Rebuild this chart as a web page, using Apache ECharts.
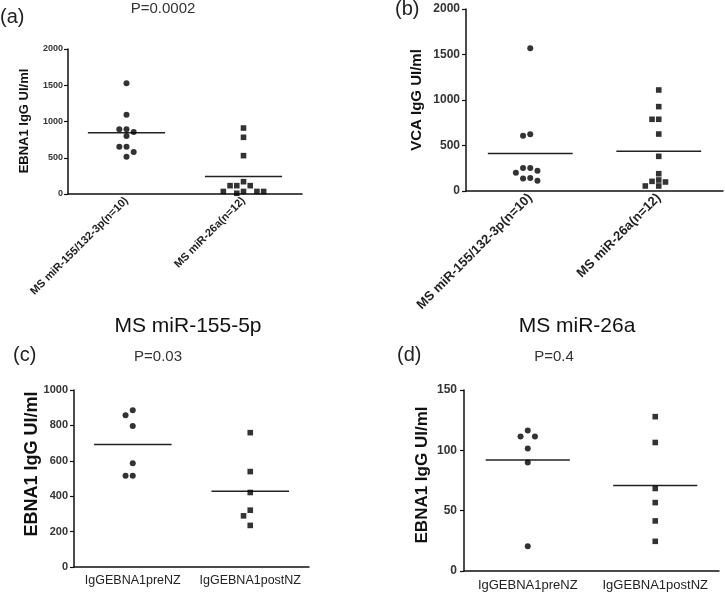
<!DOCTYPE html>
<html><head><meta charset="utf-8">
<script src="https://cdn.jsdelivr.net/npm/echarts@6/dist/echarts.min.js"></script>
<style>html,body{margin:0;padding:0;background:#fff}#c{width:725px;height:593px}</style>
</head><body><div id="c"></div>
<script>
// ---- data ----
const catsTop = ['MS miR-155/132-3p(n=10)', 'MS miR-26a(n=12)'];
const catsBottom = ['IgGEBNA1preNZ', 'IgGEBNA1postNZ'];
const aGroup1 = [1526, 1094, 892, 892, 855, 800, 653, 653, 579, 515];
const aGroup2 = [910, 782, 529, 170, 115, 115, 115, 35, 35, 35, 35, 10];
const bGroup1 = [1568, 623, 608, 253, 253, 223, 201, 143, 136, 114];
const bGroup2 = [1110, 927, 788, 788, 626, 381, 190, 121, 106, 99, 55, 55];
const cPre = [885, 857, 797, 586, 515, 515];
const cPost = [759, 539, 421, 321, 289, 235];
const dPre = [116.5, 111.5, 111.5, 101.6, 90, 20.5];
const dPost = [127.9, 106.5, 68.4, 56.7, 41.5, 24.6];
const ticksTop = [0, 500, 1000, 1500, 2000];
const ticksC = [0, 200, 400, 600, 800, 1000];
const ticksD = [0, 50, 100, 150];

const FONT = '"Liberation Sans", Arial, sans-serif';
const mean = a => a.reduce((s, v) => s + v, 0) / a.length;

// simple beeswarm: horizontal offsets so symbols don't overlap
function swarm(vals, max, h, size) {
  const step = size * 1.2, minD = size * 1.05;
  const order = vals.map((v, i) => i).sort((a, b) => vals[b] - vals[a]);
  const placed = [], off = new Array(vals.length).fill(0);
  order.forEach(i => {
    const y = vals[i] / max * h;
    for (let k = 0; k < 60; k++) {
      const c = k === 0 ? 0 : (k % 2 ? -1 : 1) * Math.ceil(k / 2) * step;
      if (placed.every(p => Math.hypot(p[0] - c, p[1] - y) >= minD)) {
        placed.push([c, y]); off[i] = c; break;
      }
    }
  });
  return off;
}

const panels = [
  { grid: { left: 68, top: 49, width: 234, height: 145 }, cats: catsTop, g1: aGroup1, g2: aGroup2, ticks: ticksTop,
    tickFont: 9, tickMargin: 5, xFont: 11, xBold: 'bold', rotate: 45, xMargin: 5 },
  { grid: { left: 466, top: 9, width: 257, height: 182 }, cats: catsTop, g1: bGroup1, g2: bGroup2, ticks: ticksTop,
    tickFont: 12, tickMargin: 6, xFont: 13, xBold: 'bold', rotate: 45, xMargin: 5 },
  { grid: { left: 74, top: 390, width: 235, height: 177 }, cats: catsBottom, g1: cPre, g2: cPost, ticks: ticksC,
    tickFont: 11, tickMargin: 6, xFont: 12.5, xBold: 'normal', rotate: 0, xMargin: 7 },
  { grid: { left: 464, top: 390, width: 255, height: 181 }, cats: catsBottom, g1: dPre, g2: dPost, ticks: ticksD,
    tickFont: 12, tickMargin: 7, xFont: 13, xBold: 'normal', rotate: 0, xMargin: 8 }
];

const grids = [], xAxes = [], yAxes = [], series = [];
panels.forEach((p, i) => {
  const max = p.ticks[p.ticks.length - 1];
  const interval = p.ticks[1] - p.ticks[0];
  grids.push(Object.assign({ containLabel: false, outerBoundsMode: 'none' }, p.grid));
  xAxes.push({
    type: 'category', gridIndex: i, data: p.cats, boundaryGap: true,
    axisLine: { lineStyle: { color: '#111', width: 1.5 } },
    axisTick: { alignWithLabel: true, length: 4, lineStyle: { color: '#111', width: 1.2 } },
    axisLabel: { rotate: p.rotate, margin: p.xMargin, fontFamily: FONT, fontSize: p.xFont,
      fontWeight: p.xBold, color: '#222', interval: 0 },
    splitLine: { show: false }
  });
  yAxes.push({
    type: 'value', gridIndex: i, min: 0, max: max, interval: interval,
    axisLine: { show: true, lineStyle: { color: '#111', width: 1.5 } },
    axisTick: { show: true, length: 4, lineStyle: { color: '#111', width: 1.2 } },
    axisLabel: { margin: p.tickMargin, fontFamily: FONT, fontSize: p.tickFont, fontWeight: 'bold', color: '#333',
      formatter: v => String(v) },
    splitLine: { show: false }
  });
  const groups = [[p.g1, 'circle', 6], [p.g2, 'rect', 5.6]];
  groups.forEach((g, gi) => {
    const off = swarm(g[0], max, p.grid.height, g[2]);
    series.push({
      type: 'scatter', xAxisIndex: i, yAxisIndex: i, symbol: g[1], symbolSize: g[2],
      itemStyle: { color: '#000' }, silent: true,
      data: g[0].map((v, k) => ({ value: [gi, v], symbolOffset: [off[k], 0] }))
    });
  });
  series.push({
    type: 'custom', xAxisIndex: i, yAxisIndex: i, silent: true, z: 1,
    data: [[0, mean(p.g1)], [1, mean(p.g2)]],
    renderItem: (params, api) => {
      const pt = api.coord([api.value(0), api.value(1)]);
      const band = api.size([1, 0])[0];
      return { type: 'line', shape: { x1: pt[0] - band * 0.33, y1: pt[1], x2: pt[0] + band * 0.33, y2: pt[1] },
        style: { stroke: '#222', lineWidth: 1.5 } };
    }
  });
});

function txt(t, x, y, size, opts) {
  return Object.assign({ type: 'text', x: x, y: y, silent: true,
    style: Object.assign({ text: t, font: (opts && opts.bold ? 'bold ' : '') + size + 'px ' + FONT,
      fill: (opts && opts.fill) || '#222', textAlign: (opts && opts.align) || 'center', textVerticalAlign: 'middle' }) },
    opts && opts.rot ? { rotation: Math.PI / 2 } : {});
}

const graphics = [
  txt('(a)', 0, 17, 20, { align: 'left' }),
  txt('P=0.0002', 163, 9, 15, { fill: '#333' }),
  txt('(b)', 395, 9, 20, { align: 'left' }),
  txt('MS miR-155-5p', 188, 326, 21, { fill: '#111' }),
  txt('MS miR-26a', 577, 326, 21, { fill: '#111' }),
  txt('(c)', 13, 355, 20, { align: 'left' }),
  txt('P=0.03', 158, 357, 15, { fill: '#333' }),
  txt('(d)', 397, 355, 20, { align: 'left' }),
  txt('P=0.4', 554, 357, 15, { fill: '#333' }),
  txt('EBNA1 IgG UI/ml', 24, 121, 13, { bold: true, rot: true, fill: '#111' }),
  txt('VCA IgG UI/ml', 417, 100, 15, { bold: true, rot: true, fill: '#111' }),
  txt('EBNA1 IgG UI/ml', 32, 464, 18, { bold: true, rot: true, fill: '#111' }),
  txt('EBNA1 IgG UI/ml', 422, 475, 17, { bold: true, rot: true, fill: '#111' })
];

const chart = echarts.init(document.getElementById('c'), null, { renderer: 'canvas' });
chart.setOption({
  animation: false,
  backgroundColor: '#fff',
  grid: grids, xAxis: xAxes, yAxis: yAxes, series: series,
  graphic: graphics
});
</script></body></html>
